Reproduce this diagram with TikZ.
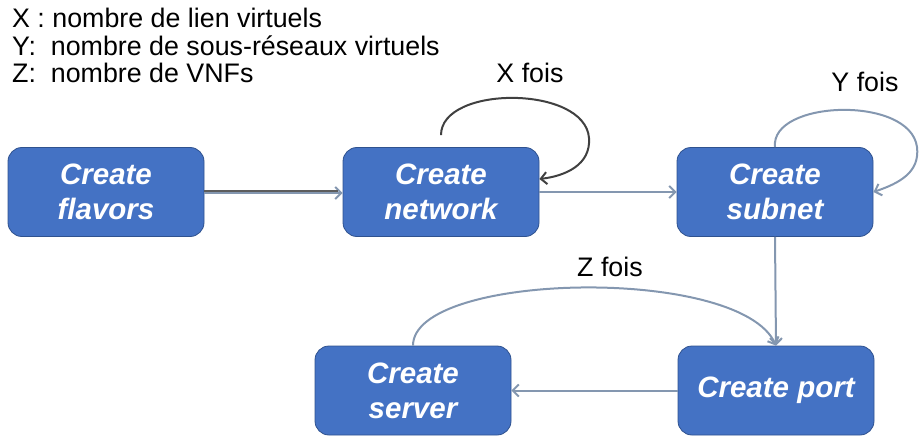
\documentclass[tikz,border=0pt]{standalone}
\usepackage{fontspec}
\setmainfont{Liberation Sans}
\usetikzlibrary{arrows.meta}
\definecolor{boxblue}{HTML}{4472C4}
\definecolor{boxedge}{HTML}{2F528F}
\definecolor{flowgray}{HTML}{8497B0}
\definecolor{loopdark}{HTML}{404040}

\begin{document}
\begin{tikzpicture}[x=1pt,y=-1pt,
  stage/.style={draw=boxedge, line width=0.8pt, fill=boxblue, rounded corners=14pt,
    minimum width=196pt, minimum height=89pt, text=white, inner sep=0pt, align=center,
    font=\fontsize{29.5}{35}\selectfont\bfseries\itshape},
  barb/.style={-{Straight Barb[length=6pt,width=12pt]}},
  flow/.style={draw=flowgray, line width=2pt, barb},
  loopx/.style={draw=loopdark, line width=2pt, barb},
  legend/.style={anchor=base west, inner sep=0pt, font=\fontsize{26.8}{27}\selectfont},
  count/.style={anchor=base, inner sep=0pt, font=\fontsize{26.8}{27}\selectfont}
]
\useasboundingbox (0,0) rectangle (919,436);

% legend
\node[legend] (lx) at (12,28) {X : nombre de lien virtuels};
\node[legend] (ly) at (12,56) {Y:\ \ nombre de sous-réseaux virtuels};
\node[legend] (lz) at (12,83) {Z:\ \ nombre de VNFs};

% workflow stages
\node[stage] (flavors) at (106,192) {Create\\flavors};
\node[stage] (network) at (441,192) {Create\\network};
\node[stage] (subnet)  at (775,192) {Create\\subnet};
\node[stage] (server)  at (413,390.5) {Create\\server};
\node[stage] (port)    at (776,390.5) {Create port};

% repetition counts
\node[count] (cx) at (530,83) {X fois};
\node[count] (cy) at (865,92) {Y fois};
\node[count] (cz) at (610,276) {Z fois};

% flavors -> network (doubled stroke)
\draw[flow] ([yshift=-1pt]flavors.east) -- ([yshift=-1pt]network.west);
\draw[draw=loopdark!85, line width=1.3pt, shorten >=5pt] ([yshift=1pt]flavors.east) -- ([yshift=1pt]network.west);

% main sequence
\draw[flow] (network.east) -- (subnet.west);
\draw[flow] (subnet.south) -- (port.north);
\draw[flow] (port.west) -- (server.east);

% loops
\draw[loopx] ([yshift=12pt]network.north) .. controls (441,85) and (585,85) .. (589,138)
  .. controls (591,165) and (565,176) .. ([yshift=13pt]network.east);
\draw[flow] (subnet.north) .. controls (770,100) and (910,95) .. (917,147)
  .. controls (920,172) and (900,183) .. (subnet.east);
\draw[flow] (server.north) .. controls (413,272) and (740,265) .. (port.north);
\end{tikzpicture}
\end{document}
